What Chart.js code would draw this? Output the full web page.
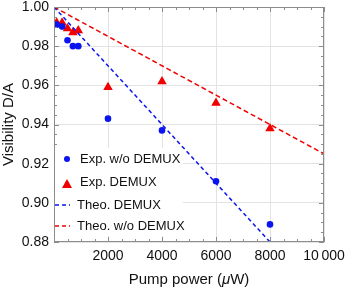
<!DOCTYPE html>
<html>
<head>
<meta charset="utf-8">
<script src="https://cdn.jsdelivr.net/npm/chart.js@4.4.1/dist/chart.umd.min.js"></script>
<style>
  html, body { margin: 0; padding: 0; background: #fff; }
  #wrap { width: 346px; height: 289px; }
</style>
</head>
<body>
<div id="wrap"><canvas id="visChart" width="346" height="289"></canvas></div>
<script>
// measured points (pump power in uW)
const pumpPower = [100, 300, 500, 700, 900, 2000, 4000, 6000, 8000];
const visWoDemux = [0.991, 0.990, 0.983, 0.980, 0.980, 0.943, 0.937, 0.911, 0.889];
const visDemux = [0.992, 0.992, 0.989, 0.987, 0.988, 0.959, 0.962, 0.951, 0.938];

// theory lines
const theoDemuxPower = [0, 8000];
const theoDemuxVis = [1.0, 0.88];
const theoWoPower = [0, 10000];
const theoWoVis = [1.0, 0.925];

const xTicks = [0, 2000, 4000, 6000, 8000, 10000];
const yTicks = [0.88, 0.90, 0.92, 0.94, 0.96, 0.98, 1.00];

const BLUE = "#0a14f0";
const RED = "#f00000";
const FONT = "'Liberation Sans', Arial, sans-serif";

const toPts = (xs, ys) => xs.map((x, i) => ({ x: x, y: ys[i] }));

// frame with inward ticks, like the original plot
const framePlugin = {
  id: "frame",
  afterDatasetsDraw(chart) {
    const { ctx, chartArea: a, scales } = chart;
    const xs = scales.x, ys = scales.y;
    ctx.save();
    ctx.strokeStyle = "#8c8c8c";
    ctx.lineWidth = 1;
    ctx.strokeRect(a.left + 0.5, a.top + 0.5, a.right - a.left - 1, a.bottom - a.top - 1);
    ctx.beginPath();
    for (let v = 0; v <= 10000; v += 500) {
      const px = Math.round(xs.getPixelForValue(v)) + 0.5;
      const len = v % 2000 === 0 ? 5 : 3;
      ctx.moveTo(px, a.bottom); ctx.lineTo(px, a.bottom - len);
      ctx.moveTo(px, a.top); ctx.lineTo(px, a.top + len);
    }
    for (let i = 0; i <= 24; i++) {
      const v = 0.88 + i * 0.005;
      const py = Math.round(ys.getPixelForValue(v)) + 0.5;
      const len = i % 4 === 0 ? 5 : 3;
      ctx.moveTo(a.left, py); ctx.lineTo(a.left + len, py);
      ctx.moveTo(a.right, py); ctx.lineTo(a.right - len, py);
    }
    ctx.stroke();
    ctx.restore();
  }
};

// legend box inside the plot
const legendPlugin = {
  id: "boxLegend",
  afterDatasetsDraw(chart) {
    const ctx = chart.ctx;
    ctx.save();
    ctx.fillStyle = "#fff";
    ctx.fillRect(55, 148, 128, 88);
    ctx.font = "13px " + FONT;
    ctx.fillStyle = "#111";
    ctx.textBaseline = "middle";

    ctx.fillStyle = BLUE;
    ctx.beginPath(); ctx.arc(67, 159, 3, 0, Math.PI * 2); ctx.fill();
    ctx.fillStyle = "#111";
    ctx.fillText("Exp. w/o DEMUX", 80, 159);

    ctx.fillStyle = RED;
    ctx.beginPath(); ctx.moveTo(67, 179); ctx.lineTo(72, 188); ctx.lineTo(62, 188); ctx.closePath(); ctx.fill();
    ctx.fillStyle = "#111";
    ctx.fillText("Exp. DEMUX", 80, 182);

    ctx.lineWidth = 1.5;
    ctx.setLineDash([4, 3]);
    ctx.strokeStyle = BLUE;
    ctx.beginPath(); ctx.moveTo(55, 205); ctx.lineTo(70, 205); ctx.stroke();
    ctx.strokeStyle = RED;
    ctx.beginPath(); ctx.moveTo(55, 226); ctx.lineTo(70, 226); ctx.stroke();
    ctx.setLineDash([]);
    ctx.fillText("Theo. DEMUX", 77, 205);
    ctx.fillText("Theo. w/o DEMUX", 77, 226);
    ctx.restore();
  }
};

// axis titles (mu is italic in the x title)
const titlePlugin = {
  id: "axisTitles",
  afterDraw(chart) {
    const { ctx, chartArea: a } = chart;
    ctx.save();
    ctx.fillStyle = "#111";
    ctx.font = "15px " + FONT;
    ctx.textBaseline = "middle";
    const p1 = "Pump power (", mu = "\u03bc", p2 = "W)";
    const w1 = ctx.measureText(p1).width;
    ctx.font = "italic 15px " + FONT;
    const wm = ctx.measureText(mu).width;
    ctx.font = "15px " + FONT;
    const w2 = ctx.measureText(p2).width;
    let x = (a.left + a.right) / 2 - (w1 + wm + w2) / 2;
    ctx.textAlign = "left";
    ctx.fillText(p1, x, 280);
    ctx.font = "italic 15px " + FONT;
    ctx.fillText(mu, x + w1, 280);
    ctx.font = "15px " + FONT;
    ctx.fillText(p2, x + w1 + wm, 280);

    ctx.translate(9, (a.top + a.bottom) / 2);
    ctx.rotate(-Math.PI / 2);
    ctx.textAlign = "center";
    ctx.fillText("Visibility D/A", 0, 0);
    ctx.restore();
  }
};

new Chart(document.getElementById("visChart"), {
  type: "scatter",
  data: {
    datasets: [
      {
        label: "Theo. DEMUX",
        data: toPts(theoDemuxPower, theoDemuxVis),
        showLine: true,
        borderColor: BLUE,
        borderWidth: 1.5,
        borderDash: [4, 3],
        pointRadius: 0,
      },
      {
        label: "Theo. w/o DEMUX",
        data: toPts(theoWoPower, theoWoVis),
        showLine: true,
        borderColor: RED,
        borderWidth: 1.5,
        borderDash: [5, 3],
        pointRadius: 0,
      },
      {
        label: "Exp. w/o DEMUX",
        data: toPts(pumpPower, visWoDemux),
        backgroundColor: BLUE,
        borderWidth: 0,
        pointRadius: 3.3,
        pointStyle: "circle",
      },
      {
        label: "Exp. DEMUX",
        data: toPts(pumpPower, visDemux),
        backgroundColor: RED,
        borderWidth: 0,
        pointRadius: 5.5,
        pointStyle: "triangle",
      },
    ],
  },
  options: {
    responsive: false,
    animation: false,
    layout: { padding: { top: 7, right: 22, left: 0, bottom: 0 } },
    plugins: {
      legend: { display: false },
      tooltip: { enabled: false },
    },
    scales: {
      x: {
        type: "linear",
        min: 0,
        max: 10000,
        afterFit: (s) => { s.height = 47; s.paddingLeft = 0; s.paddingRight = 0; },
        afterBuildTicks: (s) => { s.ticks = xTicks.map((v) => ({ value: v })); },
        grid: { color: "#e3e3e3", drawTicks: false },
        border: { display: false },
        ticks: {
          padding: 6,
          color: "#111",
          font: { family: FONT, size: 14 },
          maxRotation: 0,
          callback: (v) => (v === 0 ? "" : v === 10000 ? "10\u2009000" : String(v)),
        },
      },
      y: {
        type: "linear",
        min: 0.88,
        max: 1.0,
        afterFit: (s) => { s.width = 54; s.paddingTop = 0; s.paddingBottom = 0; },
        afterBuildTicks: (s) => { s.ticks = yTicks.map((v) => ({ value: v })); },
        grid: { color: "#e3e3e3", drawTicks: false },
        border: { display: false },
        ticks: {
          padding: 5,
          color: "#111",
          font: { family: FONT, size: 14 },
          callback: (v) => v.toFixed(2),
        },
      },
    },
  },
  plugins: [framePlugin, legendPlugin, titlePlugin],
});
</script>
</body>
</html>
